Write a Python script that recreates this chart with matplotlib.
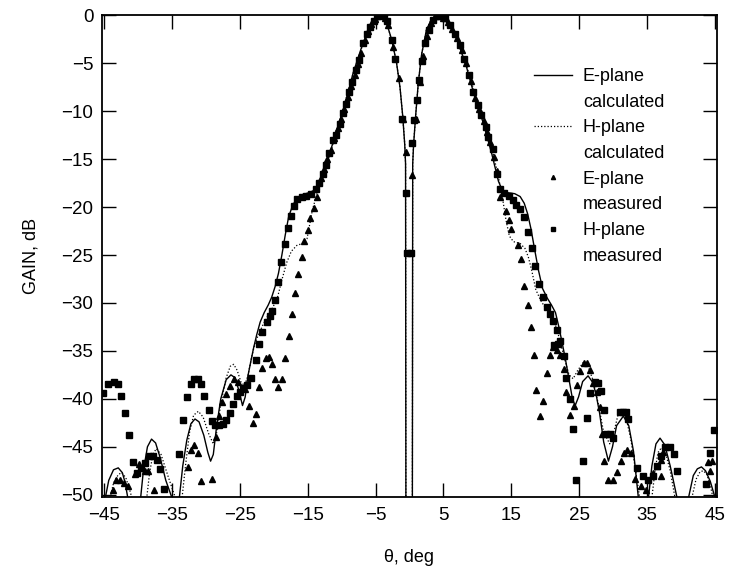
import matplotlib
matplotlib.use("Agg")
import matplotlib.pyplot as plt
from matplotlib.lines import Line2D

plt.rcParams["font.family"] = ["Liberation Sans", "DejaVu Sans"]

# ------------------------------------------------------------------
# Data
# ------------------------------------------------------------------
theta_e_calc = [-45.3, -44.8, -44.3, -43.6, -42.9, -42.3, -41.9, -41.5, -41.0,
                -40.0, -39.6, -39.2, -38.6, -38.0, -37.4, -36.7, -35.9, -35.0, -34.5,
                -33.9, -33.4, -32.8, -32.2, -31.6, -31.0, -30.3, -29.7, -29.3, -28.9,
                -28.4, -27.8, -27.0, -26.3, -25.7, -25.1, -24.6, -24.2, -23.8, -23.4,
                -23.0, -22.5, -22.0, -21.4, -20.8, -20.3, -19.8, -19.3, -18.8, -18.3,
                -17.8, -17.2, -16.6, -15.8, -14.8, -14.2, -13.6, -13.2, -12.2, -11.0,
                -9.5, -8.3, -7.0, -6.0, -5.1, -4.3, -3.5, -2.6, -1.9, -1.4, -1.0,
                -0.7, -0.58, -0.52,
                0.41, 0.47, 0.6, 0.9, 1.3, 1.8, 2.5, 3.3, 4.2, 5.0, 6.0, 7.0, 8.4,
                9.6, 10.9, 12.1, 13.1, 13.7, 14.5, 15.5, 16.3, 16.9, 17.4, 17.9, 18.4,
                19.0, 19.6, 20.3, 20.9, 21.5, 22.0, 22.5, 23.0, 23.5, 24.0, 24.4, 24.9,
                25.5, 26.3, 27.0, 27.5, 28.0, 28.6, 29.3, 29.9, 30.5, 31.5, 32.3, 33.0,
                33.7, 34.4, 35.2, 35.7, 36.3, 36.9, 37.6, 38.4, 39.4, 40.2, 41.1, 41.8,
                42.4, 43.0, 43.6, 44.3, 45.0, 45.3]
gain_e_calc = [-53, -50.3, -48.5, -47.4, -47.2, -47.7, -48.7, -50.3, -55,
               -55, -50.3, -47.5, -45.0, -44.2, -44.6, -46.2, -48.5, -50.3, -55,
               -50.3, -47.0, -44.3, -42.6, -42.1, -42.4, -43.8, -45.6, -46.5, -45.8,
               -42.8, -40.0, -38.0, -37.5, -37.8, -39.2, -40.7, -39.8, -37.6, -36.2,
               -34.8, -33.3, -32.0, -31.0, -30.2, -29.4, -28.3, -26.9, -25.0, -22.9,
               -21.0, -19.8, -19.1, -18.7, -18.5, -18.3, -17.8, -17.2, -15.5, -12.6,
               -9.2, -6.0, -3.2, -1.5, -0.3, 0.0, -0.5, -2.6, -5.0, -7.5, -10.5,
               -13.5, -15.5, -60,
               -60, -15.5, -13.5, -10.5, -7.0, -4.0, -1.5, -0.3, 0.0, -0.3, -1.2, -2.5, -5.4,
               -8.5, -11.3, -14.4, -17.3, -18.3, -18.5, -18.6, -18.9, -19.6, -20.7, -22.3,
               -24.3, -26.6, -28.5, -29.5, -30.2, -31.0, -32.5, -34.2, -36.0, -38.0, -40.0,
               -40.7, -39.8, -38.2, -37.6, -38.3, -39.6, -41.5, -44.5, -46.5, -45.0,
               -42.8, -41.8, -42.8, -45.5, -50.3, -55, -50.3, -47.0, -44.7, -44.1, -44.8,
               -47.0, -50.3, -55, -50.3, -48.0, -47.3, -47.1, -47.5, -48.6, -50.3, -53]

theta_h_calc = [-45.3, -44.1, -43.6, -42.9, -42.4, -41.8, -41.3, -40.9, -40.3,
                -39.2, -38.7, -38.3, -37.8, -37.3, -36.6, -35.6, -34.5, -34.0,
                -33.5, -33.0, -32.4, -31.8, -31.1, -30.4, -29.6, -28.9, -28.4, -27.8,
                -27.0, -26.4, -25.9, -25.4, -24.8, -24.3, -23.8, -23.3, -22.8, -22.3,
                -21.6, -21.0, -20.4, -19.8, -19.4, -18.8, -18.1, -17.4, -16.6, -15.8,
                -15.1, -14.7, -14.3, -13.8, -13.4, -12.4, -11.2, -9.8, -8.4, -7.0,
                -6.0, -5.1, -4.3, -3.5, -2.6, -1.9, -1.4, -1.0, -0.7, -0.58, -0.52,
                0.41, 0.47, 0.6, 0.9, 1.3, 1.8, 2.5, 3.3, 4.2, 5.0, 6.0, 7.0, 8.5,
                9.9, 11.1, 12.3, 13.0, 13.4, 13.8, 14.2, 14.7, 15.3, 16.3, 17.0, 17.5,
                18.0, 18.6, 19.3, 20.0, 20.8, 21.5, 22.2, 22.9, 23.5, 24.1, 24.8, 25.6,
                26.3, 27.0, 27.8, 28.6, 29.5, 30.2, 30.7, 31.3, 31.9, 32.6, 33.3, 33.9,
                34.6, 35.7, 36.2, 36.6, 37.1, 37.7, 38.4, 39.1, 40.0, 41.6, 42.2, 42.8,
                43.3, 43.8, 44.3, 44.7, 45.3]
gain_h_calc = [-55, -50.3, -48.8, -47.9, -47.7, -48.2, -49.3, -50.3, -55,
               -55, -50.3, -47.8, -45.8, -45.2, -45.8, -48.0, -50.3, -55,
               -50.3, -47.0, -43.5, -41.7, -41.3, -41.9, -43.6, -44.7, -43.5, -40.5,
               -37.8, -36.6, -36.4, -37.0, -38.3, -38.6, -37.6, -35.8, -34.3, -33.4,
               -32.3, -31.5, -30.8, -30.0, -29.3, -27.6, -25.8, -24.6, -24.0, -23.8,
               -23.3, -21.8, -20.3, -19.0, -18.0, -16.0, -13.2, -9.8, -6.3, -3.3,
               -1.5, -0.3, 0.0, -0.5, -2.6, -5.0, -7.5, -10.5, -13.5, -15.5, -60,
               -60, -15.5, -13.5, -10.5, -7.0, -4.0, -1.5, -0.3, 0.0, -0.3, -1.2, -2.6, -5.5,
               -8.8, -11.4, -14.4, -16.5, -18.0, -19.5, -21.3, -23.0, -23.6, -23.8, -24.3,
               -25.2, -26.6, -28.6, -29.7, -30.5, -31.2, -32.3, -34.0, -36.0, -37.5,
               -37.9, -37.0, -36.2, -36.6, -38.0, -40.5, -43.5, -44.7, -43.2, -41.7,
               -41.4, -42.0, -44.2, -47.5, -50.3, -55, -50.3, -47.3, -45.6, -45.1,
               -45.6, -47.5, -50.3, -55, -50.3, -48.4, -47.6, -47.5, -47.9, -49.0,
               -50.3, -55]

theta_e_meas = [-43.7, -43.2, -42.7, -42.1, -41.5, -40.5, -39.8, -39.0, -38.5, -37.7,
                -32.7, -32.2, -31.7, -31.2, -30.7, -29.1, -28.5, -28.1, -27.6, -27.0,
                -26.5, -25.9, -25.3, -24.3, -23.6, -23.1, -22.6, -22.2, -21.7, -21.2,
                -20.7, -20.2, -19.8, -19.4, -18.8, -18.3, -17.8, -17.3, -16.8, -16.4,
                -15.9, -15.5, -14.9, -14.6, -14.1, -13.6, -13.1, -12.6, -12.1, -11.6,
                -11.1, -10.6, -10.1, -9.6, -9.1, -8.6, -8.1, -7.6, -7.1, -6.6, -6.1,
                -5.6, -5.1, -4.6, -4.1, -3.6, -3.1, -2.4, -1.5, -1.0, -0.52,
                0.41, 0.95, 1.5, 2.0, 2.6, 3.2, 3.8, 4.5, 5.0, 5.6, 6.3, 7.0, 7.7, 8.3,
                9.0, 9.7, 10.3, 10.9, 11.4, 11.9, 12.5, 12.9, 13.3, 14.2, 14.6, 14.9,
                16.0, 16.4, 16.9, 17.4, 17.9, 18.4, 18.7, 19.2, 19.7, 20.2, 20.7, 21.2,
                21.7, 22.2, 22.7, 23.1, 23.7, 24.2, 24.6, 25.1, 25.7, 26.2, 26.6, 27.1,
                27.6, 28.1, 28.3, 28.6, 29.3, 29.9, 30.5, 31.1, 31.6, 32.1, 32.6, 33.2,
                34.1, 34.8, 35.9, 36.4, 37.0, 37.3, 37.1, 44.0, 44.2, 44.5]
gain_e_meas = [-49.5, -48.5, -48.5, -48.8, -49.1, -47.8, -46.8, -47.5, -47.5, -49.5,
               -47.1, -45.3, -44.8, -45.7, -48.6, -48.4, -44.0, -41.8, -40.3, -39.5,
               -38.7, -37.9, -38.2, -39.0, -40.7, -42.5, -41.6, -38.8, -36.8, -35.7,
               -35.6, -36.4, -37.9, -38.8, -37.9, -35.7, -33.4, -31.1, -29.0, -27.0,
               -25.2, -23.5, -22.4, -21.1, -20.1, -18.9, -17.0, -16.0, -15.0, -14.0,
               -12.8, -11.8, -10.8, -9.8, -8.5, -7.4, -6.2, -5.1, -3.9, -2.6, -1.6,
               -0.9, -0.4, -0.1, 0.0, -0.3, -1.0, -3.3, -6.5, -10.8, -14.2,
               -16.7, -10.8, -6.9, -4.2, -2.2, -0.8, -0.1, -0.1, -0.3, -0.7, -1.4, -2.4,
               -3.6, -5.0, -6.8, -8.6, -9.8, -11.0, -12.2, -13.2, -14.8, -16.2, -18.9,
               -20.4, -21.3, -22.3, -24.0, -25.4, -28.2, -30.2, -32.5, -35.4, -39.1,
               -41.8, -40.2, -37.3, -35.4, -34.6, -34.9, -35.4, -36.9, -39.3, -41.7,
               -40.7, -38.6, -37.1, -36.3, -36.3, -37.0, -38.3, -39.3, -40.9, -43.7,
               -46.5, -48.5, -48.5, -47.6, -46.5, -45.6, -45.3, -45.7, -48.4, -49.1,
               -49.5, -47.7, -47.0, -46.4, -45.5, -48.0, -46.6, -47.5, -46.5]

theta_h_meas = [-45.1, -44.4, -43.6, -43.0, -42.5, -41.9, -41.3, -40.7, -40.1, -39.5,
                -38.9, -38.3, -37.8, -37.2, -36.7, -36.1, -33.9, -33.4, -32.8, -32.2,
                -31.7, -31.2, -30.7, -30.2, -29.6, -29.1, -28.6, -28.1, -27.5, -27.0,
                -26.5, -26.0, -25.4, -25.0, -24.5, -23.9, -23.4, -22.6, -22.1, -21.7,
                -21.0, -20.5, -20.2, -19.8, -19.3, -19.0, -18.4, -17.9, -17.5, -17.0,
                -16.5, -15.9, -15.2, -14.5, -13.8, -13.3, -12.8, -12.3, -11.8, -11.3,
                -10.8, -10.3, -9.8, -9.4, -8.9, -8.4, -7.9, -7.4, -6.9, -6.3, -5.8,
                -5.3, -4.8, -4.3, -3.8, -3.3, -2.6, -2.1, -1.15, -0.52, -0.35,
                0.25, 0.41, 0.7, 1.06, 1.44, 1.8, 2.3, 2.8, 3.4, 4.2, 5.2, 6.0, 6.7, 7.4,
                8.0, 8.7, 9.4, 10.1, 10.6, 11.3, 11.6, 12.3, 12.9, 13.4, 13.9, 14.6,
                15.2, 15.7, 16.3, 16.9, 17.5, 18.0, 18.5, 19.0, 19.6, 20.2, 20.7, 21.2,
                21.3, 21.7, 21.8, 22.2, 22.7, 23.1, 23.6, 24.1, 24.5, 25.5, 26.1, 26.6,
                27.3, 27.8, 28.2, 28.6, 29.0, 29.5, 30.0, 31.0, 31.5, 31.9, 32.2, 33.5,
                34.4, 35.2, 35.9, 36.4, 37.0, 37.6, 38.3, 38.9, 39.4, 43.7, 44.3, 44.9]
gain_h_meas = [-39.4, -38.4, -38.2, -38.5, -39.7, -41.5, -43.8, -46.6, -47.7, -47.2,
               -46.7, -46.0, -46.0, -46.4, -47.3, -49.4, -45.8, -42.2, -39.8, -38.4,
               -37.9, -37.9, -38.4, -39.7, -41.2, -42.3, -42.7, -42.7, -42.6, -42.2,
               -41.5, -40.5, -39.7, -39.3, -38.9, -38.6, -37.8, -35.9, -34.3, -33.0,
               -32.0, -31.4, -30.8, -29.7, -27.8, -25.7, -23.8, -22.2, -20.9, -19.9,
               -19.2, -18.9, -18.8, -18.6, -18.1, -17.5, -16.5, -15.6, -14.4, -13.0,
               -12.5, -11.3, -10.2, -9.2, -8.0, -6.9, -5.7, -4.7, -2.9, -1.9, -1.2,
               -0.6, -0.1, 0.0, -0.1, -0.6, -2.6, -4.6, -10.8, -18.5, -24.8,
               -24.8, -13.3, -10.9, -8.8, -6.7, -4.8, -2.9, -1.5, -0.5, -0.1, -0.3, -1.0,
               -1.9, -3.1, -4.5, -6.2, -8.0, -9.4, -10.4, -11.6, -12.7, -13.9, -16.5,
               -18.1, -18.5, -18.8, -19.3, -19.8, -20.2, -21.0, -22.6, -24.3, -26.1,
               -28.0, -29.4, -30.4, -31.2, -31.9, -34.4, -32.8, -34.3, -34.0, -35.5,
               -37.8, -40.0, -43.1, -48.5, -46.5, -42.0, -39.4, -38.2, -38.3, -39.2,
               -41.2, -43.7, -43.7, -44.1, -41.4, -41.4, -41.4, -42.1, -47.2, -48.0,
               -48.5, -48.0, -47.0, -46.0, -45.0, -45.0, -45.8, -47.5, -48.9, -45.6,
               -43.3]

x_ticks = [-45, -35, -25, -15, -5, 5, 15, 25, 35, 45]
y_ticks = [0, -5, -10, -15, -20, -25, -30, -35, -40, -45, -50]

# ------------------------------------------------------------------
# Plot
# ------------------------------------------------------------------
fig = plt.figure(figsize=(7.3, 5.72), dpi=100)
ax = fig.add_axes([0.1393, 0.1311, 0.8425, 0.8432])

ax.plot(theta_e_calc, gain_e_calc, color="black", lw=1.0)
ax.plot(theta_h_calc, gain_h_calc, color="black", lw=0.9, ls=(0, (1, 1.6)))
ax.plot(theta_e_meas, gain_e_meas, ls="none", marker="^", ms=4, color="black")
ax.plot(theta_h_meas, gain_h_meas, ls="none", marker="s", ms=4, color="black")

ax.set_xlim(-45.34, 45.25)
ax.set_ylim(-50.24, 0.07)
ax.set_xticks(x_ticks)
ax.set_yticks(y_ticks)
ax.tick_params(direction="in", length=10, width=1, labelsize=13.5,
               top=True, right=True, pad=6)
ax.tick_params(axis="x", pad=7)
for s in ax.spines.values():
    s.set_linewidth(1.3)

ax.set_xlabel("θ, deg", fontsize=13, labelpad=18)
ax.set_ylabel("GAIN, dB", fontsize=13, labelpad=16)

blank = Line2D([], [], ls="none")
handles = [Line2D([], [], color="black", lw=1.0), blank,
           Line2D([], [], color="black", lw=0.9, ls=(0, (1, 1.6))), blank,
           Line2D([], [], ls="none", marker="^", ms=3, color="black"), blank,
           Line2D([], [], ls="none", marker="s", ms=3.5, color="black"), blank]
labels = ["E-plane", "calculated", "H-plane", "calculated",
          "E-plane", "measured", "H-plane", "measured"]
ax.legend(handles, labels, loc="upper left", frameon=False, fontsize=13,
          bbox_to_anchor=(534 / 730, 1 - 68 / 572), bbox_transform=fig.transFigure,
          borderpad=0, borderaxespad=0, handlelength=2.1, handletextpad=0.6,
          labelspacing=0.48)

fig.savefig("out.png", dpi=100)
